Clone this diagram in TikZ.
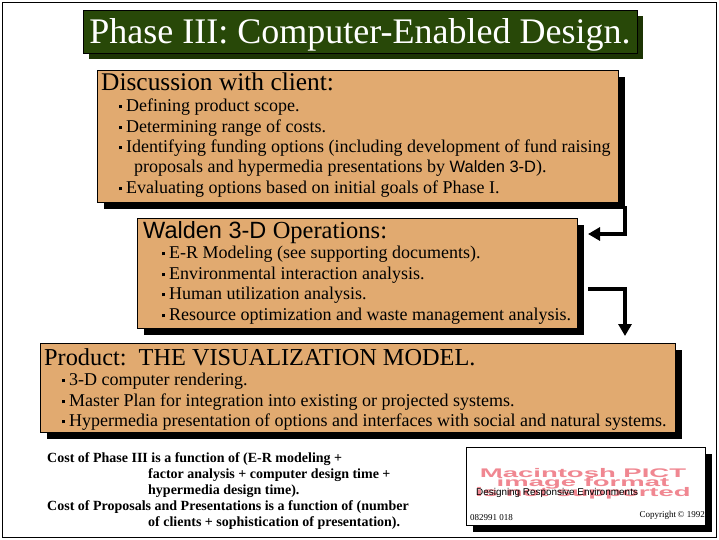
\documentclass[tikz,border=0pt]{standalone}
\usepackage{fontspec}
\usepackage{graphicx}
\setmainfont{Liberation Serif}
\newfontfamily\sansf{Liberation Sans}
\usetikzlibrary{shadows,arrows.meta}
\definecolor{titlegreen}{RGB}{40,72,8}
\definecolor{titleshadow}{RGB}{28,52,4}
\definecolor{tan}{RGB}{225,170,112}
\definecolor{pictpink}{RGB}{240,135,145}
\newcommand{\bul}{\rule[2.6pt]{3pt}{3pt}\hspace{4pt}}
\tikzset{
  box/.style={draw=black, line width=0.6pt, fill=tan, anchor=north west, inner sep=0pt,
    drop shadow={shadow xshift=7pt, shadow yshift=-7pt, fill=black, opacity=1}},
  titlebox/.style={draw=black, line width=0.6pt, fill=titlegreen, anchor=north west, inner sep=0pt,
    drop shadow={shadow xshift=6pt, shadow yshift=-6pt, fill=titleshadow, opacity=1}},
  pictbox/.style={draw=black, line width=0.6pt, fill=white, anchor=north west, inner sep=0pt,
    drop shadow={shadow xshift=7pt, shadow yshift=-7pt, fill=black, opacity=1}},
  txt/.style={anchor=base west, inner sep=0pt, font=\fontsize{18}{20}\selectfont},
  head/.style={anchor=base west, inner sep=0pt, font=\fontsize{25.4}{28}\selectfont},
  costtxt/.style={anchor=base west, inner sep=0pt, font=\fontsize{14}{16}\selectfont\bfseries},
  pinktxt/.style={anchor=base, inner sep=0pt, text=pictpink, font=\sansf\bfseries\fontsize{12.5}{12}\selectfont},
  arr/.style={line width=3.5pt, -{Triangle[length=12pt,width=13pt]}},
  frame/.style={draw=black, line width=1pt}
}
\begin{document}
\begin{tikzpicture}[x=1pt,y=-1pt]
\useasboundingbox (0,0) rectangle (719,539);
\draw[frame] (2.5,2.5) rectangle (716.5,537.5);

% title
\node[titlebox, minimum width=554pt, minimum height=43pt] (title) at (83,10) {};
\node[anchor=base, inner sep=0pt, text=white, font=\fontsize{36}{40}\selectfont] (titletext) at (360,43) {Phase III: Computer-Enabled Design.};

% box 1
\node[box, minimum width=521pt, minimum height=132pt] (box1) at (97,70) {};
\node[head] (h1) at (101,90) {Discussion with client:};
\node[txt] (b11) at (119,111) {\bul Defining product scope.};
\node[txt] (b12) at (119,132) {\bul Determining range of costs.};
\node[txt] (b13) at (119,152) {\bul Identifying funding options (including development of fund raising};
\node[txt] (b14) at (134,172) {proposals and hypermedia presentations by {\sansf\fontsize{16.5}{18}\selectfont Walden 3-D}).};
\node[txt] (b15) at (119,193) {\bul Evaluating options based on initial goals of Phase I.};

% box 2
\node[box, minimum width=440pt, minimum height=110pt] (box2) at (137,218) {};
\node[head] (h2) at (143,238) {{\sansf\fontsize{23.5}{26}\selectfont Walden 3-D} {\fontsize{24.5}{26}\selectfont Operations:}};
\node[txt] (b21) at (162,258) {\bul E-R Modeling (see supporting documents).};
\node[txt] (b22) at (162,279) {\bul Environmental interaction analysis.};
\node[txt] (b23) at (162,299) {\bul Human utilization analysis.};
\node[txt] (b24) at (162,320) {\bul Resource optimization and waste management analysis.};

% box 3
\node[box, minimum width=635pt, minimum height=89pt] (box3) at (40,343) {};
\node[head, font=\fontsize{24.3}{26}\selectfont] (h3) at (44,365) {Product:\ \ THE VISUALIZATION MODEL.};
\node[txt] (b31) at (62,385) {\bul 3-D computer rendering.};
\node[txt] (b32) at (62,406) {\bul Master Plan for integration into existing or projected systems.};
\node[txt] (b33) at (62,426) {\bul Hypermedia presentation of options and interfaces with social and natural systems.};

% arrows
\coordinate (a1s) at (625,206);
\coordinate (a1e) at (588,234);
\draw[arr] (a1s) |- (a1e);
\coordinate (a2s) at (588,289);
\coordinate (a2e) at (625,336);
\draw[arr] (a2s) -| (a2e);

% cost text
\node[costtxt] (c1) at (47,462) {Cost of Phase III is a function of (E-R modeling +};
\node[costtxt] (c2) at (148,478) {factor analysis + computer design time +};
\node[costtxt] (c3) at (148,494) {hypermedia design time).};
\node[costtxt] (c4) at (47,510) {Cost of Proposals and Presentations is a function of (number};
\node[costtxt] (c5) at (148,526) {of clients + sophistication of presentation).};

% pict box
\node[pictbox, minimum width=239pt, minimum height=78pt] (pict) at (466,447) {};
\node[pinktxt] (p1) at (583,477) {\scalebox{2.2}[1]{Macintosh PICT}};
\node[pinktxt] (p2) at (583,486.5) {\scalebox{2.2}[1]{image format}};
\node[pinktxt] (p3) at (583,496) {\scalebox{2.2}[1]{is not supported}};
\node[anchor=base west, inner sep=0pt, font=\sansf\fontsize{9.9}{10}\selectfont] (p4) at (476,495) {Designing Responsive Environments};
\node[anchor=base west, inner sep=0pt, font=\fontsize{9}{10}\selectfont] (p5) at (470,520) {082991 018};
\node[anchor=base east, inner sep=0pt, font=\fontsize{9}{10}\selectfont] (p6) at (705,517) {Copyright\,\textcopyright\ 1992};
\end{tikzpicture}
\end{document}
